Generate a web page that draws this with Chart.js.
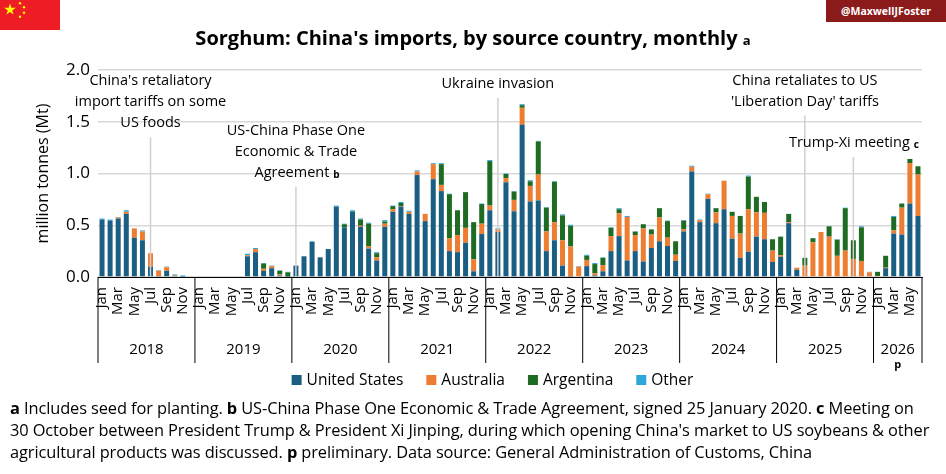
<!DOCTYPE html>
<html>
<head>
<meta charset="utf-8">
<script src="https://cdn.jsdelivr.net/npm/chart.js@4.4.1/dist/chart.umd.min.js"></script>
<style>
  body { margin: 0; width: 946px; height: 474px; overflow: hidden; background: #fff; font-family: "Open Sans", sans-serif; position: relative; }
  #title { position: absolute; top: 24px; left: 0; width: 946px; text-align: center; font-size: 20px; font-weight: bold; color: #000; }
  #title small { font-size: 13px; }
  #badge { position: absolute; top: 0; right: 0; width: 120px; height: 22px; background: #8b1a1a; color: #fff; font-size: 10.5px; font-weight: bold; line-height: 22px; text-align: center; }
  #flag { position: absolute; top: 0; left: 0; }
  #notes { position: absolute; top: 397px; left: 10px; font-size: 16.4px; line-height: 22px; color: #000; white-space: nowrap; letter-spacing: -0.1px; }
  canvas { position: absolute; top: 0; left: 0; }
</style>
</head>
<body>
<canvas id="myChart" width="946" height="398"></canvas>
<svg id="flag" width="60" height="30" viewBox="0 0 30 15">
  <rect width="30" height="15" fill="#ee1c25"/>
  <polygon points="5,1.8 5.7,3.9 7.9,3.9 6.1,5.2 6.8,7.3 5,6 3.2,7.3 3.9,5.2 2.1,3.9 4.3,3.9" fill="#ffff00"/>
  <circle cx="10" cy="1.6" r="0.6" fill="#ffff00"/><circle cx="12" cy="3.6" r="0.6" fill="#ffff00"/>
  <circle cx="12" cy="6.4" r="0.6" fill="#ffff00"/><circle cx="10" cy="8.4" r="0.6" fill="#ffff00"/>
</svg>
<div id="badge">@MaxwellJFoster</div>
<div id="title">Sorghum: China's imports, by source country, monthly <small>a</small></div>
<div id="notes">
<b>a</b> Includes seed for planting. <b>b</b> US-China Phase One Economic &amp; Trade Agreement, signed 25 January 2020. <b>c</b> Meeting on<br>
30 October between President Trump &amp; President Xi Jinping, during which opening China's market to US soybeans &amp; other<br>
agricultural products was discussed. <b>p</b> preliminary. Data source: General Administration of Customs, China
</div>
<script>
const years = ['2018', '2019', '2020', '2021', '2022', '2023', '2024', '2025', '2026'];
const monthNames = ['Jan', 'Feb', 'Mar', 'Apr', 'May', 'Jun', 'Jul', 'Aug', 'Sep', 'Oct', 'Nov', 'Dec'];
const monthsIn2026 = 6;

// million tonnes, Jan 2018 .. Jun 2026
const unitedStates = [
  0.555,0.545,0.565,0.61,0.38,0.355,0.1,0.01,0.06,0.01,0.005,0,
  0,0,0,0,0,0,0.2,0.24,0.06,0.085,0.015,0.005,
  0.11,0.2,0.34,0.19,0.27,0.68,0.48,0.63,0.485,0.275,0.16,0.485,
  0.63,0.68,0.61,0.985,0.54,0.945,0.83,0.25,0.24,0.33,0.055,0.415,
  0.645,0.435,0.915,0.635,1.47,0.73,0.74,0.25,0.355,0.11,0.005,0,
  0.105,0.015,0.055,0.25,0.395,0.16,0.25,0.15,0.28,0.345,0.3,0.155,
  0.44,1.02,0.53,0.755,0.52,0.655,0.37,0.185,0.245,0.39,0.365,0.145,
  0.195,0.52,0.07,0,0,0,0,0,0,0,0,0,
  0,0.085,0.42,0.41,0.71,0.59
];
const australia = [
  0,0,0.01,0.02,0.09,0.085,0.13,0.05,0.035,0.005,0,0,
  0,0,0,0,0,0,0.01,0.03,0.02,0.02,0.01,0,
  0,0,0,0,0,0,0,0,0.01,0.02,0.03,0.03,
  0.025,0.005,0.02,0.035,0.07,0.145,0.06,0.125,0.165,0.145,0.115,0.1,
  0.045,0.025,0.04,0.11,0.165,0.15,0.25,0.19,0.175,0.245,0.29,0.1,
  0.06,0.02,0.06,0.145,0.22,0.42,0.155,0.32,0.13,0.23,0.08,0.06,
  0.02,0.045,0.02,0.045,0.105,0.275,0.22,0.235,0.41,0.235,0.255,0.11,
  0.015,0.01,0.02,0.11,0.335,0.435,0.39,0.205,0.255,0.175,0.155,0.045,
  0.01,0.005,0.03,0.26,0.39,0.4
];
const argentina = [
  0,0,0,0,0,0,0,0,0,0,0,0,
  0,0,0,0,0,0,0,0,0.05,0,0.035,0.04,
  0,0,0,0,0,0,0.03,0.005,0.06,0.22,0.04,0.02,
  0.03,0.03,0,0,0,0,0.2,0.425,0.24,0.345,0.36,0.19,
  0.43,0,0.04,0.08,0.025,0.045,0.32,0.23,0.39,0.24,0.2,0,
  0.04,0.09,0.07,0.08,0.04,0,0.035,0.04,0.05,0.09,0.16,0.13,
  0.085,0,0,0,0.04,0,0.04,0.17,0.315,0.15,0.105,0.11,
  0.18,0.08,0,0.075,0.04,0,0.1,0.155,0.41,0.18,0.325,0,
  0.04,0.115,0.13,0.04,0.04,0.08
];
const other = [
  0.01,0.01,0.005,0.015,0,0.01,0,0.005,0.005,0.01,0.01,0,
  0,0,0,0,0,0,0.015,0.01,0.005,0.005,0.005,0.005,
  0,0,0.005,0,0,0.01,0.005,0.01,0.01,0.01,0.01,0.015,
  0.005,0.01,0.01,0.01,0,0.01,0.01,0.005,0,0,0,0.005,
  0.01,0.01,0.005,0.005,0.01,0.01,0.005,0.005,0.005,0.01,0.01,0.005,
  0.01,0.01,0.005,0.005,0.01,0.01,0,0,0,0,0.005,0,
  0.005,0.01,0.005,0.005,0,0,0,0,0.01,0,0,0,
  0,0,0,0,0,0,0,0.005,0.005,0,0.01,0.005,
  0,0,0.01,0,0,0
];

// events: month index, label lines, top of the line (Mt)
const events = [
  { index: 6,  lines: ["China's retaliatory", 'import tariffs on some', 'US foods'], top: 1.35 },
  { index: 24, lines: ['US-China Phase One', 'Economic & Trade', 'Agreement'], note: 'b', top: 0.87 },
  { index: 49, lines: ['Ukraine invasion'], top: 1.73 },
  { index: 87, lines: ['China retaliates to US', "'Liberation Day' tariffs"], top: 1.56 },
  { index: 93, lines: ['Trump-Xi meeting'], note: 'c', top: 1.16 }
];

const labels = [];
years.forEach((y, i) => {
  const n = i === years.length - 1 ? monthsIn2026 : 12;
  for (let m = 0; m < n; m++) labels.push(monthNames[m]);
});

const colours = { us: '#1b5e84', au: '#ed7d31', ar: '#1e6b24', ot: '#2ea6dc' };
const font = 'Open Sans';

const overlay = {
  id: 'overlay',
  afterDatasetsDraw(chart) {
    const { ctx, chartArea, scales } = chart;
    const x = scales.x, y = scales.y;
    const step = x.getPixelForValue(1) - x.getPixelForValue(0);
    ctx.save();
    // event lines + labels
    events.forEach(ev => {
      const px = x.getPixelForValue(ev.index);
      ctx.strokeStyle = '#d0d0d0';
      ctx.lineWidth = 1.5;
      ctx.beginPath();
      ctx.moveTo(px, y.getPixelForValue(ev.top));
      ctx.lineTo(px, y.getPixelForValue(0));
      ctx.stroke();
      ctx.fillStyle = '#000';
      ctx.textAlign = 'center';
      ctx.textBaseline = 'middle';
      const lh = 21;
      const y0 = y.getPixelForValue(ev.top) - 14 - (ev.lines.length - 1) * lh;
      ev.lines.forEach((t, k) => {
        ctx.font = '14.5px "' + font + '"';
        if (ev.note && k === ev.lines.length - 1) {
          const w = ctx.measureText(t).width;
          ctx.fillText(t, px - 4, y0 + k * lh);
          ctx.font = 'bold 10px "' + font + '"';
          ctx.textAlign = 'left';
          ctx.fillText(ev.note, px - 4 + w / 2 + 4, y0 + k * lh + 2);
          ctx.textAlign = 'center';
        } else {
          ctx.fillText(t, px, y0 + k * lh);
        }
      });
    });
    // year row
    const base = chartArea.bottom;
    ctx.strokeStyle = '#000';
    ctx.lineWidth = 1;
    let start = 0;
    years.forEach((yr, i) => {
      const n = i === years.length - 1 ? monthsIn2026 : 12;
      const left = x.getPixelForValue(start) - step / 2;
      const right = x.getPixelForValue(start + n - 1) + step / 2;
      ctx.beginPath();
      ctx.moveTo(left, base);
      ctx.lineTo(left, base + 86);
      ctx.stroke();
      if (i === years.length - 1) {
        ctx.beginPath();
        ctx.moveTo(right, base);
        ctx.lineTo(right, base + 86);
        ctx.stroke();
      }
      ctx.fillStyle = '#000';
      ctx.textAlign = 'center';
      ctx.textBaseline = 'middle';
      ctx.font = '15px "' + font + '"';
      ctx.fillText(yr, (left + right) / 2, base + 73);
      if (i === years.length - 1) {
        ctx.font = 'bold 11px "' + font + '"';
        ctx.fillText('p', (left + right) / 2, base + 88);
      }
      start += n;
    });
    // legend
    const items = chart.data.datasets.map(d => ({ text: d.label, col: d.backgroundColor }));
    ctx.font = '15.5px "' + font + '"';
    const widths = items.map(it => 16 + ctx.measureText(it.text).width);
    const gap = 22;
    const total = widths.reduce((a, b) => a + b, 0) + gap * (items.length - 1);
    let lx = 473 - total / 2 + 20;
    const ly = 380;
    items.forEach((it, k) => {
      ctx.fillStyle = it.col;
      ctx.fillRect(lx, ly - 5, 10, 10);
      ctx.fillStyle = '#000';
      ctx.textAlign = 'left';
      ctx.fillText(it.text, lx + 15, ly + 1);
      lx += widths[k] + gap;
    });
    ctx.restore();
  }
};

new Chart(document.getElementById('myChart'), {
  type: 'bar',
  data: {
    labels: labels,
    datasets: [
      { label: 'United States', data: unitedStates, backgroundColor: colours.us },
      { label: 'Australia', data: australia, backgroundColor: colours.au },
      { label: 'Argentina', data: argentina, backgroundColor: colours.ar },
      { label: 'Other', data: other, backgroundColor: colours.ot }
    ]
  },
  options: {
    responsive: false,
    animation: false,
    layout: { padding: { top: 70, right: 24, bottom: 0, left: 34 } },
    datasets: { bar: { categoryPercentage: 1, barPercentage: 0.62 } },
    plugins: { legend: { display: false }, tooltip: { enabled: false } },
    scales: {
      x: {
        stacked: true,
        grid: { display: false },
        border: { color: '#000', width: 1 },
        afterFit: s => { s.height = 121; },
        ticks: {
          autoSkip: false, maxRotation: 90, minRotation: 90, padding: 2,
          color: '#000', font: { family: font, size: 15 },
          callback: (v, i) => (i % 2 === 0 ? labels[i] : '')
        }
      },
      y: {
        stacked: true,
        min: 0, max: 2,
        afterFit: s => { s.width = 64; },
        border: { display: false },
        grid: { color: '#d9d9d9', lineWidth: 1.5, drawTicks: false },
        title: { display: true, text: 'million tonnes (Mt)', color: '#000', font: { family: font, size: 16 }, padding: 0 },
        ticks: {
          stepSize: 0.5, padding: 8, color: '#000', font: { family: font, size: 17 },
          callback: v => v.toFixed(1)
        }
      }
    }
  },
  plugins: [overlay]
});
</script>
</body>
</html>
